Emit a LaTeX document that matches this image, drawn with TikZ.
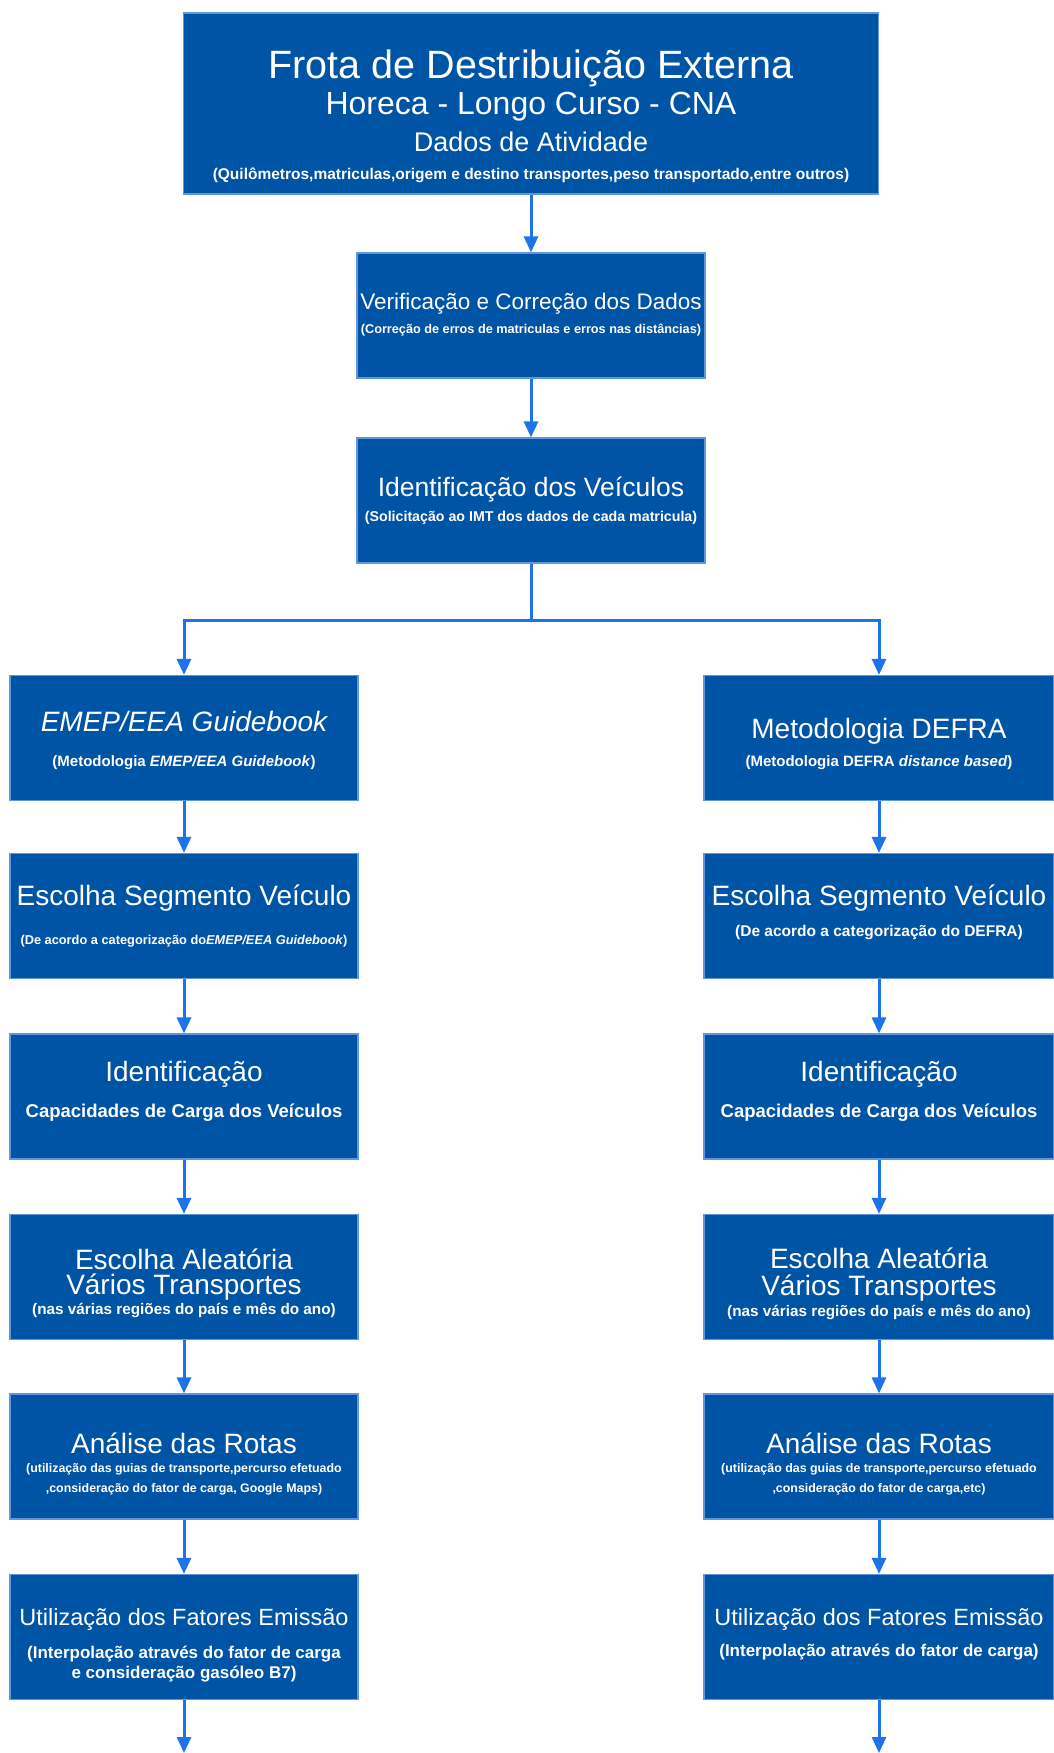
\documentclass[tikz,border=0pt]{standalone}
\usepackage{fontspec}
\setmainfont{Liberation Sans}
\usetikzlibrary{arrows.meta}
\definecolor{boxblue}{RGB}{0,84,166}
\definecolor{rimblue}{RGB}{95,150,220}
\definecolor{flowblue}{RGB}{30,115,232}
\newcommand{\fs}[1]{\fontsize{#1}{0}\selectfont}
\newcommand{\tstrut}[1]{\rule{0pt}{#1pt}}
\newcommand{\bstrut}[1]{\rule[-#1pt]{0pt}{0pt}}
\newcommand{\boxfont}{\lineskiplimit=-1000pt\fs{28}}
\begin{document}
\begin{tikzpicture}[x=1pt,y=-1pt,
    panel/.style={draw=rimblue, line width=1.2pt, fill=boxblue, text=white, align=center,
        inner sep=0pt, minimum width=348pt, minimum height=125pt, font=\boxfont},
    wide/.style={minimum width=350pt},
    flow/.style={draw=flowblue, line width=3pt, -{Triangle[width=14pt,length=16pt]}}]
        \useasboundingbox (0,0) rectangle (1053,1753);
        \node [panel, minimum width=695pt, minimum height=181pt] (frota) at (531,103.5)
            {\tstrut{58.6}\fs{39.5}Frota de Destribuição Externa\\[36.3pt]
             \fs{32}Horeca - Longo Curso - CNA\\[37.2pt]
             \fs{27}Dados de Atividade\\[27.7pt]
             \fs{15.5}\bfseries(Quilômetros,matriculas,origem e destino transportes,peso transportado,entre outros)\bstrut{8}};
        \node [panel] (verif) at (531,315.5)
            {\tstrut{23.5}\fs{22.5}Verificação e Correção dos Dados\\[24.5pt]
             \fs{12.7}\bfseries(Correção de erros de matriculas e erros nas distâncias)\bstrut{12}};
        \node [panel] (veic) at (531,500.5)
            {\tstrut{28.5}\fs{26.5}Identificação dos Veículos\\[24.5pt]
             \fs{14.2}\bfseries(Solicitação ao IMT dos dados de cada matricula)\bstrut{12}};
        \node [panel] (emep) at (184,738)
            {\tstrut{33.4}\itshape EMEP/EEA Guidebook\\[35.4pt]
             \fs{15}\bfseries(Metodologia \textit{EMEP/EEA Guidebook})\bstrut{12}};
        \node [panel, wide] (defra) at (879,738)
            {\tstrut{40.4}Metodologia DEFRA\\[28.4pt]
             \fs{15}\bfseries(Metodologia DEFRA \textit{distance based})\bstrut{12}};
        \node [panel] (segL) at (184,916)
            {\tstrut{29.5}Escolha Segmento Veículo\\[39.5pt]
             \fs{12.8}\bfseries(De acordo a categorização do\textit{EMEP/EEA Guidebook})\bstrut{12}};
        \node [panel, wide] (segR) at (879,916)
            {\tstrut{25.6}Escolha Segmento Veículo\\[31.6pt]
             \fs{15.5}\bfseries(De acordo a categorização do DEFRA)\bstrut{16}};
        \node [panel] (capL) at (184,1096.5)
            {\tstrut{25.7}Identificação\\[36.7pt]
             \fs{18.5}\bfseries Capacidades de Carga dos Veículos\bstrut{20}};
        \node [panel, wide] (capR) at (879,1096.5)
            {\tstrut{25.7}Identificação\\[36.7pt]
             \fs{18.5}\bfseries Capacidades de Carga dos Veículos\bstrut{20}};
        \node [panel] (aleL) at (184,1277)
            {\tstrut{37.5}Escolha Aleatória\\[25.5pt]
             Vários Transportes\\[20pt]
             \fs{15.3}\bfseries(nas várias regiões do país e mês do ano)\bstrut{8}};
        \node [panel, wide] (aleR) at (879,1277)
            {\tstrut{39.3}Escolha Aleatória\\[26.8pt]
             Vários Transportes\\[21.3pt]
             \fs{15.3}\bfseries(nas várias regiões do país e mês do ano)\bstrut{8}};
        \node [panel] (rotL) at (184,1456.5)
            {\tstrut{40.5}Análise das Rotas\\[19.5pt]
             \fs{12.4}\bfseries(utilização das guias de transporte,percurso efetuado\\[20pt]
             \fs{12.4}\bfseries,consideração do fator de carga, Google Maps)\bstrut{8}};
        \node [panel, wide] (rotR) at (879,1456.5)
            {\tstrut{40.5}Análise das Rotas\\[19.5pt]
             \fs{12.4}\bfseries(utilização das guias de transporte,percurso efetuado\\[20pt]
             \fs{12.4}\bfseries,consideração do fator de carga,etc)\bstrut{8}};
        \node [panel] (fatL) at (184,1637)
            {\tstrut{37.5}\fs{23.5}Utilização dos Fatores Emissão\\[32.5pt]
             \fs{17}\bfseries(Interpolação através do fator de carga\\[20pt]
             \fs{17}\bfseries e consideração gasóleo B7)\bstrut{8}};
        \node [panel, wide] (fatR) at (879,1637)
            {\tstrut{23.5}\fs{23.5}Utilização dos Fatores Emissão\\[30.5pt]
             \fs{17}\bfseries(Interpolação através do fator de carga)\bstrut{16}};
        \coordinate (split) at (531,620);
        \coordinate (endL) at (184,1753);
        \coordinate (endR) at (879,1753);
        \draw[flow] (frota) -- (verif);
        \draw[flow] (verif) -- (veic);
        \draw[flow] (veic.south) -- (split) -| (emep.north);
        \draw[flow] (split) -| (defra.north);
        \foreach \a/\b in {emep/segL, segL/capL, capL/aleL, aleL/rotL, rotL/fatL, fatL/endL,
                defra/segR, segR/capR, capR/aleR, aleR/rotR, rotR/fatR, fatR/endR}
            \draw[flow] (\a) -- (\b);
\end{tikzpicture}
\end{document}
